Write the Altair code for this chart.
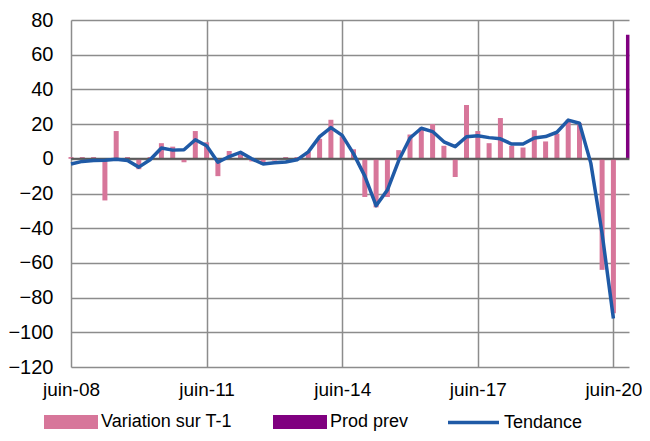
import json
import altair as alt
import pandas as pd

# ---- data (quarterly, juin-08 = index 0) ----
variation = [1, 1, 1, -24, 16, 1, -6, 1, 9, 7, -2, 16, 9.5, -10, 4.5, 2.5,
             -1.5, -3.5, -1, 1, 1, 4, 11.5, 22.5, 13, 5.5, -22, -28, -22, 5,
             14, 18, 20, 7.5, -10.5, 31, 16, 9, 23.5, 7.5, 6.5, 16.5, 10,
             14.5, 22.5, 20.5, 0, -64, -89]
tendance = [-3, -1.5, -1, -0.8, -0.2, -1, -4.8, -0.5, 6.2, 5, 5.2, 11, 7.5,
            -2, 1.3, 3.7, 0, -3, -2.3, -1.8, -0.6, 4, 12.8, 18, 13.5, 3,
            -10, -27, -18, -1, 12, 17.6, 15.7, 9.8, 7, 12.7, 13.3, 12.2,
            11.5, 8.5, 8.5, 12, 12.8, 15.3, 22.3, 20.5, -2.5, -43, -92]
prod_prev_idx = [49]
prod_prev = [71.5]
tick_idx = [0, 12, 24, 36, 48]
tick_labels = ["juin-08", "juin-11", "juin-14", "juin-17", "juin-20"]
y_ticks = list(range(-120, 81, 20))
bar_series = ["Variation sur T-1", "Prod prev"]
line_series = ["Tendance"]

PINK = "#D7769A"
PURPLE = "#800080"
BLUE = "#1F5AA6"
FONT = "Liberation Sans"

df_var = pd.DataFrame({"idx": list(range(len(variation))), "val": variation,
                       "serie": bar_series[0]})
df_prev = pd.DataFrame({"idx": prod_prev_idx, "val": prod_prev, "serie": bar_series[1]})
df_line = pd.DataFrame({"idx": list(range(len(tendance))), "val": tendance,
                        "serie2": line_series[0]})
df_zero = pd.DataFrame({"y": [0]})

label_expr = json.dumps(tick_labels) + "[round(datum.value/12)]"

x_scale = alt.Scale(domain=[0, 49.38], nice=False, zero=False, padding=0)
y_scale = alt.Scale(domain=[-120, 80], nice=False, padding=0)

x_axis = alt.Axis(values=tick_idx, labelExpr=label_expr, title=None, grid=True,
                  gridColor="#8C8C8C", gridWidth=1.5, domain=False, ticks=False,
                  labelFontSize=19, labelFont=FONT, labelColor="#000000",
                  labelPadding=13, labelFlush=False, labelOverlap=False)
y_axis = alt.Axis(values=y_ticks, title=None, grid=True, gridColor="#8C8C8C",
                  gridWidth=1.5, domain=False, ticks=False, labelFontSize=20,
                  labelFont=FONT, labelColor="#000000", labelPadding=18,
                  labelOverlap=False)

LEG_Y = 375
bar_legend = alt.Legend(orient="none", legendX=-27, legendY=LEG_Y, direction="horizontal",
                        title=None, symbolType="M-1,-0.26H1V0.26H-1Z", symbolSize=2916,
                        symbolStrokeWidth=0, labelFont=FONT, labelFontSize=18,
                        labelColor="#000000", labelOffset=3, columnPadding=41,
                        padding=0, labelLimit=300)
fill_enc = alt.Fill("serie:N", scale=alt.Scale(domain=bar_series, range=[PINK, PURPLE]),
                    legend=bar_legend)

X = alt.X("idx:Q", scale=x_scale, axis=x_axis)
Y = alt.Y("val:Q", scale=y_scale, axis=y_axis)

bars = alt.Chart(df_var).mark_bar(size=5).encode(
    x=X, y=Y, y2=alt.datum(0), fill=fill_enc,
)
prev = alt.Chart(df_prev).mark_bar(size=3.5, xOffset=3).encode(
    x=X, y=Y, y2=alt.datum(0), fill=fill_enc,
)
zero = alt.Chart(df_zero).mark_rule(color="#5A5A5A", strokeWidth=2).encode(
    y=alt.Y("y:Q", scale=y_scale, axis=y_axis),
)
line = alt.Chart(df_line).mark_line(strokeWidth=3.5, strokeJoin="round").encode(
    x=X, y=Y,
    stroke=alt.Stroke("serie2:N", scale=alt.Scale(domain=line_series, range=[BLUE]),
                      legend=alt.Legend(orient="none", legendX=375, legendY=LEG_Y,
                                        title=None, symbolType="stroke", symbolSize=2601,
                                        symbolStrokeWidth=3.5, labelFont=FONT,
                                        labelFontSize=18, labelColor="#000000",
                                        labelOffset=3, padding=0)),
)

chart = alt.layer(bars, prev, zero, line).properties(
    width=558, height=347,
    autosize=alt.AutoSizeParams(type="none"),
    padding={"left": 63, "top": 12, "right": 13, "bottom": 66},
).configure_view(stroke=None).resolve_scale(fill="shared")

chart.save("out.html", embed_options={"renderer": "svg", "actions": False})
